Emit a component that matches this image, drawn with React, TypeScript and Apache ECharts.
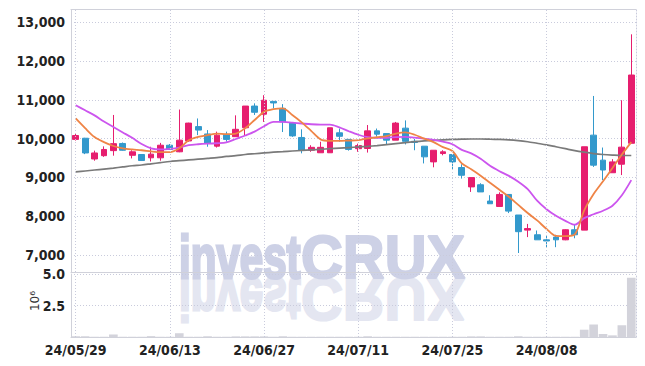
import React, { useEffect, useRef } from 'react';
import * as echarts from 'echarts';

const dates = [
  '24/05/29', '24/05/30', '24/05/31', '24/06/03', '24/06/04', '24/06/05', '24/06/07', '24/06/10', '24/06/11', '24/06/12',
  '24/06/13', '24/06/14', '24/06/17', '24/06/18', '24/06/19', '24/06/20', '24/06/21', '24/06/24', '24/06/25', '24/06/26',
  '24/06/27', '24/06/28', '24/07/01', '24/07/02', '24/07/03', '24/07/04', '24/07/05', '24/07/08', '24/07/09', '24/07/10',
  '24/07/11', '24/07/12', '24/07/15', '24/07/16', '24/07/17', '24/07/18', '24/07/19', '24/07/22', '24/07/23', '24/07/24',
  '24/07/25', '24/07/26', '24/07/29', '24/07/30', '24/07/31', '24/08/01', '24/08/02', '24/08/05', '24/08/06', '24/08/07',
  '24/08/08', '24/08/09', '24/08/12', '24/08/13', '24/08/14', '24/08/16', '24/08/19', '24/08/20', '24/08/21', '24/08/22',
];

const opens = [
  9980, 10010, 9475, 9560, 9690, 9875, 9570, 9590, 9505, 9505,
  9830, 9660, 9940, 10310, 10120, 9805, 10110, 10050, 10280, 10840,
  10630, 10960, 10780, 10400, 10030, 9700, 9635, 9635, 10150, 9980,
  9740, 9745, 10200, 10130, 9960, 10270, 9930, 9805, 9400, 9615,
  9590, 9255, 8755, 8810, 8390, 8250, 8560, 8030, 7640, 7520,
  7390, 7460, 7390, 7650, 7640, 10090, 9445, 9120, 9340, 9880,
];
const closes = [
  10080, 9630, 9630, 9720, 9870, 9700, 9660, 9435, 9600, 9830,
  9720, 9960, 10400, 10220, 9875, 10090, 9980, 10240, 10840, 10680,
  10990, 10920, 10430, 10070, 9700, 9775, 9775, 10280, 10060, 9720,
  9820, 10200, 10115, 9960, 10400, 9930, 9900, 9530, 9700, 9660,
  9400, 9055, 8995, 8625, 8320, 8560, 8130, 7600, 7680, 7390,
  7360, 7390, 7650, 7520, 9790, 9315, 9190, 9400, 9780, 11640,
];
const lows = [
  9950, 9600, 9430, 9530, 9560, 9690, 9490, 9430, 9410, 9430,
  9720, 9650, 9920, 10090, 9790, 9770, 9920, 10050, 10090, 10610,
  10430, 10780, 10170, 10045, 9620, 9660, 9635, 9635, 9920, 9690,
  9660, 9640, 10050, 9850, 9960, 9850, 9700, 9360, 9260, 9570,
  9200, 8970, 8625, 8625, 8320, 8250, 8080, 7050, 7460, 7390,
  7200, 7200, 7380, 7430, 7640, 9270, 8930, 9120, 9060, 9880,
];
const highs = [
  10120, 10020, 9690, 9800, 10610, 9900, 9700, 9600, 9790, 9890,
  9860, 10750, 10410, 10520, 10220, 10180, 10180, 10600, 10840, 10910,
  11120, 10960, 10890, 10400, 10240, 9830, 9920, 10280, 10260, 9980,
  9870, 10350, 10260, 10130, 10430, 10470, 9990, 9805, 9700, 9700,
  9590, 9340, 8995, 8850, 8540, 8615, 8560, 8030, 7800, 7630,
  7500, 7520, 7660, 7780, 9790, 11100, 9770, 9470, 10990, 12690,
];

// volume, in millions of shares
const volumes = [
  0.06, 0.06, 0.02, 0.02, 0.2, 0.02, 0.02, 0.02, 0.07, 0.02,
  0.02, 0.3, 0.02, 0.02, 0.06, 0.02, 0.02, 0.05, 0.05, 0.05,
  0.05, 0.02, 0.06, 0.02, 0.02, 0.02, 0.02, 0.02, 0.02, 0.02,
  0.02, 0.06, 0.02, 0.02, 0.02, 0.02, 0.02, 0.02, 0.02, 0.02,
  0.02, 0.02, 0.05, 0.05, 0.02, 0.02, 0.02, 0.05, 0.02, 0.02,
  0.02, 0.02, 0.02, 0.02, 0.58, 1.0, 0.24, 0.13, 0.93, 4.7,
];

const maShort = [
  10520, 10270, 10040, 9910, 9810, 9750, 9720, 9700, 9670, 9650,
  9650, 9750, 9960, 10045, 10090, 10130, 10115, 10130, 10270, 10480,
  10690, 10760, 10780, 10610, 10420, 10200, 9980, 9940, 9940, 9950,
  9960, 10005, 10035, 10065, 10130, 10160, 10100, 10000, 9910, 9780,
  9680, 9360, 9210, 9045, 8860, 8680, 8500, 8290, 8080, 7890,
  7670, 7490, 7485, 7530, 8150, 8570, 8900, 9240, 9590, 9910,
];
const maMid = [
  10860, 10730, 10600, 10440, 10300, 10160, 10020, 9860, 9750, 9720,
  9735, 9770, 9830, 9855, 9870, 9880, 9900, 9990, 10080, 10180,
  10320, 10430, 10430, 10410, 10390, 10370, 10360, 10360, 10290, 10190,
  10100, 10040, 10020, 10020, 10040, 10045, 10025, 10000, 9970, 9920,
  9855, 9710, 9620, 9480, 9300, 9160, 9040, 8890, 8700, 8400,
  8180, 8010, 7880, 7780, 7950, 8050, 8140, 8270, 8540, 8930,
];
const maLong = [
  9140, 9165, 9190, 9215, 9240, 9270, 9300, 9320, 9350, 9380,
  9410, 9430, 9450, 9470, 9490, 9510, 9540, 9560, 9590, 9610,
  9630, 9650, 9665, 9680, 9695, 9710, 9725, 9740, 9755, 9770,
  9785, 9800, 9820, 9845, 9870, 9895, 9920, 9940, 9955, 9970,
  9980, 9985, 9990, 9990, 9985, 9980, 9970, 9950, 9920, 9880,
  9840, 9790, 9740, 9690, 9650, 9615, 9590, 9575, 9565, 9565,
];

const volumeUnit = '10⁶';
const labelStep = 10;

const UP = '#e61e6e';
const DOWN = '#3399cc';
const GRID_LINE = '#c9cbdc';
const AXIS_LINE = '#d0d1da';
const LABEL_FONT = "'Liberation Sans Narrow', 'DejaVu Sans Condensed', sans-serif";

export default function App() {
  const ref = useRef<HTMLDivElement>(null);

  useEffect(() => {
    const chart = echarts.init(ref.current!, null, { renderer: 'svg' });

    const markDates = dates.filter((_, i) => i % labelStep === 0);
    const vLines = {
      silent: true,
      symbol: ['none', 'none'],
      label: { show: false },
      lineStyle: { type: [1, 2], color: GRID_LINE, width: 1 },
      emphasis: { disabled: true },
      animation: false,
      data: markDates.map((d) => ({ xAxis: d })),
    };

    const labelStyle = {
      fontFamily: LABEL_FONT,
      fontSize: 14,
      fontWeight: 'bold' as const,
      color: '#222',
    };

    const wmFill = '#cdd1e6';
    const wmFillRef = '#e4e6f1';
    const wmChildren = (fill: string) => [
      {
        type: 'text',
        x: 0,
        y: -21,
        scaleX: 0.69,
        style: {
          text: 'invest',
          font: "bold 61px 'Liberation Sans', sans-serif",
          fill,
          stroke: fill,
          lineWidth: 3,
          verticalAlign: 'middle',
        },
      },
      {
        type: 'text',
        x: 122,
        y: -21,
        scaleX: 0.95,
        style: {
          text: 'CRUX',
          font: "bold 61px 'Liberation Sans', sans-serif",
          fill,
          stroke: fill,
          lineWidth: 2,
          verticalAlign: 'middle',
        },
      },
    ];

    const option: any = {
      animation: false,
      backgroundColor: '#fff',
      grid: [
        { left: 71, right: 9, top: 9.5, height: 262.5 },
        { left: 71, right: 9, top: 274, height: 63 },
      ],
      graphic: {
        elements: [
          { type: 'group', x: 179, y: 278, scaleY: -1, z: 0, silent: true, children: wmChildren(wmFillRef) },
          { type: 'group', x: 179, y: 278, z: 0, silent: true, children: wmChildren(wmFill) },
          {
            type: 'text',
            x: 35,
            y: 301,
            rotation: Math.PI / 2,
            silent: true,
            style: {
              text: volumeUnit,
              font: "12px 'DejaVu Sans', sans-serif",
              fill: '#333',
              align: 'center',
              verticalAlign: 'middle',
            },
          },
        ],
      },
      xAxis: [
        {
          type: 'category', gridIndex: 0, data: dates, boundaryGap: true,
          axisLine: { lineStyle: { color: AXIS_LINE } }, axisTick: { show: false },
          axisLabel: { show: false }, splitLine: { show: false },
        },
        {
          type: 'category', gridIndex: 0, data: dates, boundaryGap: true, position: 'top',
          axisLine: { lineStyle: { color: AXIS_LINE } }, axisTick: { show: false },
          axisLabel: { show: false }, splitLine: { show: false },
        },
        {
          type: 'category', gridIndex: 1, data: dates, boundaryGap: true,
          axisLine: { lineStyle: { color: AXIS_LINE } }, axisTick: { show: false },
          axisLabel: { ...labelStyle, interval: labelStep - 1, margin: 6 },
          splitLine: { show: false },
        },
      ],
      yAxis: [
        {
          type: 'value', gridIndex: 0, min: 6560, max: 13330, position: 'left',
          axisLine: { show: true, lineStyle: { color: AXIS_LINE } }, axisTick: { show: false },
          axisLabel: {
            ...labelStyle, margin: 6,
            formatter: (v: number) => (v % 1000 === 0 ? v.toLocaleString('en-US') : ''),
          },
          splitLine: { show: true, lineStyle: { type: [1, 2], color: GRID_LINE } },
        },
        {
          type: 'value', gridIndex: 1, min: 0, max: 5, interval: 2.5, position: 'left',
          axisLine: { show: true, lineStyle: { color: AXIS_LINE } }, axisTick: { show: false },
          axisLabel: {
            ...labelStyle, margin: 6,
            formatter: (v: number) => (v === 0 ? '' : v.toFixed(1)),
          },
          splitLine: { show: true, lineStyle: { type: [1, 2], color: GRID_LINE } },
        },
        {
          type: 'value', gridIndex: 0, min: 6560, max: 13330, position: 'right',
          axisLine: { show: true, lineStyle: { color: GRID_LINE, type: [1, 2] } },
          axisTick: { show: false }, axisLabel: { show: false }, splitLine: { show: false },
        },
        {
          type: 'value', gridIndex: 1, min: 0, max: 5, position: 'right',
          axisLine: { show: true, lineStyle: { color: GRID_LINE, type: [1, 2] } },
          axisTick: { show: false }, axisLabel: { show: false }, splitLine: { show: false },
        },
      ],
      series: [
        {
          type: 'line', xAxisIndex: 0, yAxisIndex: 0, data: [], z: 1,
          markLine: vLines,
        },
        {
          type: 'line', xAxisIndex: 2, yAxisIndex: 1, data: [], z: 1,
          markLine: vLines,
        },
        {
          type: 'candlestick', xAxisIndex: 0, yAxisIndex: 0,
          barWidth: '68%',
          data: dates.map((_, i) => [opens[i], closes[i], lows[i], highs[i]]),
          itemStyle: { color: UP, color0: DOWN, borderColor: UP, borderColor0: DOWN, borderWidth: 1 },
        },
        {
          type: 'line', xAxisIndex: 0, yAxisIndex: 0, data: maLong, smooth: 0.3,
          symbol: 'none', lineStyle: { color: '#7a7a7a', width: 1.7 },
        },
        {
          type: 'line', xAxisIndex: 0, yAxisIndex: 0, data: maMid, smooth: 0.3,
          symbol: 'none', lineStyle: { color: '#cc55ee', width: 1.8 },
        },
        {
          type: 'line', xAxisIndex: 0, yAxisIndex: 0, data: maShort, smooth: 0.3,
          symbol: 'none', lineStyle: { color: '#ef8446', width: 1.8 },
        },
        {
          type: 'bar', xAxisIndex: 2, yAxisIndex: 1, data: volumes,
          barCategoryGap: '8%',
          itemStyle: { color: '#d3d3db' },
        },
      ],
    };

    chart.setOption(option);
    return () => chart.dispose();
  }, []);

  return (
    <div
      ref={ref}
      style={{ position: 'fixed', left: 0, top: 0, width: 645, height: 366 }}
    />
  );
}
